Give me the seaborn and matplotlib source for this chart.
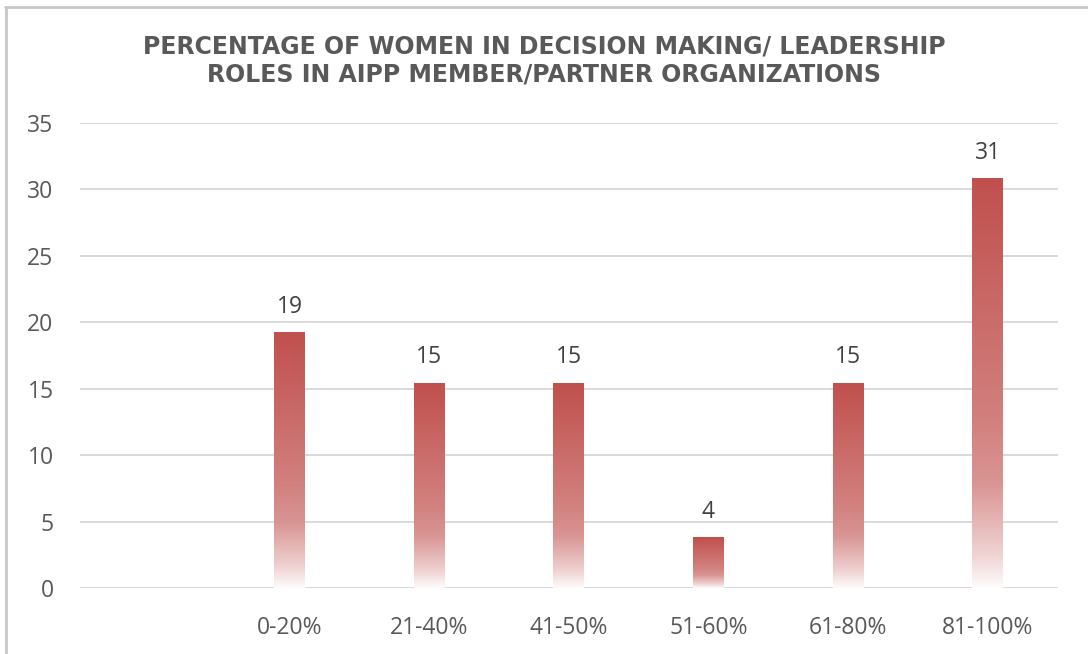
import matplotlib
matplotlib.use("Agg")
import matplotlib.pyplot as plt
import matplotlib.colors as mcolors
from matplotlib.lines import Line2D
import numpy as np
import pandas as pd
import seaborn as sns

# data (share of organizations, %)
categories = ["0-20%", "21-40%", "41-50%", "51-60%", "61-80%", "81-100%"]
values = [19.2, 15.4, 15.4, 3.8, 15.4, 30.8]
labels = ["19", "15", "15", "4", "15", "31"]
slots = [""] + categories  # first slot is left empty in the original

title = ("PERCENTAGE OF WOMEN IN DECISION MAKING/ LEADERSHIP\n"
         "ROLES IN AIPP MEMBER/PARTNER ORGANIZATIONS")

sns.set_theme(style="white")
plt.rcParams["font.family"] = ["Open Sans", "DejaVu Sans"]

df = pd.DataFrame({"range": categories, "pct": values})

fig = plt.figure(figsize=(10.88, 6.54), dpi=100)
ax = fig.add_axes([0.0735, 0.1009, 0.8985, 0.7111])

sns.barplot(data=df, x="range", y="pct", order=slots, color="#C0504D",
            width=0.22, ax=ax, zorder=3)

ax.set_ylim(0, 35)
ax.set_yticks(range(0, 36, 5))
ax.yaxis.grid(True, color="#D9D9D9", linewidth=1.4, zorder=0)
ax.set_axisbelow(True)
for s in ax.spines.values():
    s.set_visible(False)
ax.set_xlabel("")
ax.set_ylabel("")
ax.tick_params(axis="both", length=0, labelsize=16.5, labelcolor="#595959")
ax.tick_params(axis="x", pad=20)
ax.tick_params(axis="y", pad=19)

# gradient fill: solid red at the top, fading to white at the bottom
base = np.array(mcolors.to_rgb("#C0504D"))
t = np.linspace(0, 1, 256)
alpha = np.interp(t, [0.0, 0.08, 0.25, 0.4, 1.0], [0.02, 0.25, 0.6, 0.72, 1.0])
grad = np.ones((256, 1, 3)) * (1 - alpha[:, None, None]) + base * alpha[:, None, None]

for patch, lab in zip([p for p in ax.patches if p.get_height() > 0], labels):
    x0, w, h = patch.get_x(), patch.get_width(), patch.get_height()
    patch.set_facecolor("none")
    patch.set_edgecolor("none")
    ax.imshow(grad, extent=[x0, x0 + w, 0, h], origin="lower",
              aspect="auto", zorder=3, interpolation="bilinear")
    ax.annotate(lab, (x0 + w / 2, h), xytext=(0, 10), textcoords="offset points",
                ha="center", va="bottom", fontsize=16.5, color="#404040")

ax.set_xlim(-0.5, len(slots) - 0.5)

fig.text(0.5, 0.908, title, ha="center", va="center", fontsize=17,
         fontweight="bold", color="#595959", linespacing=1.2,
         family=["DejaVu Sans"])

# light frame of the screenshot (top and left edges)
fig.add_artist(Line2D([0.005, 1.0], [0.99, 0.99], transform=fig.transFigure,
                      color="#C8C8C8", linewidth=2))
fig.add_artist(Line2D([0.0055, 0.0055], [0.0, 0.99], transform=fig.transFigure,
                      color="#C8C8C8", linewidth=2))

fig.savefig("out.png", dpi=100, facecolor="white")
